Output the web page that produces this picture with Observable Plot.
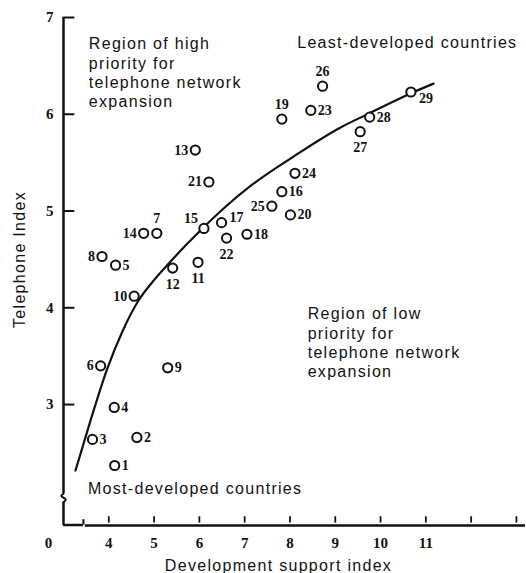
<!DOCTYPE html>
<html><head><meta charset="utf-8">
<script src="https://cdn.jsdelivr.net/npm/d3@7"></script>
<script src="https://cdn.jsdelivr.net/npm/@observablehq/plot@0.6"></script>
<style>
html,body{margin:0;padding:0;background:#fff;}
#chart{width:526px;height:573px;overflow:hidden;}
</style></head><body><div id="chart"></div>
<script>
// Country numbers, development support index (x), telephone index (y)
const countryIds = [1,2,3,4,5,6,7,8,9,10,11,12,13,14,15,16,17,18,19,20,21,22,23,24,25,26,27,28,29];
const devIndex = [4.13,4.62,3.64,4.12,4.15,3.82,5.06,3.85,5.30,4.56,5.97,5.41,5.91,4.77,6.10,7.82,6.49,7.05,7.82,8.01,6.21,6.60,8.46,8.11,7.60,8.72,9.55,9.76,10.67];
const telIndex = [2.37,2.66,2.64,2.97,4.44,3.40,4.77,4.53,3.38,4.12,4.47,4.41,5.63,4.77,4.82,5.20,4.88,4.76,5.95,4.96,5.30,4.72,6.04,5.39,5.05,6.29,5.82,5.97,6.23];
const labelSide = ["r","r","r","r","r","l","t","l","r","l","b","b","l","l","tl","r","tr","r","t","r","l","b","r","r","l","t","b","r","br"];

// Fitted curve as drawn in the reference
const curveDev = [3.265,3.596,3.965,4.303,4.656,4.987,5.318,5.694,6.091,6.577,7.129,8.079,9.117,9.713,10.662,11.170];
const curveTel = [2.318,2.834,3.369,3.758,4.075,4.280,4.455,4.643,4.830,5.044,5.259,5.563,5.864,6.001,6.215,6.317];

// Axis ticks
const yTicks = [3,4,5,6,7];
const xTicks = [4,5,6,7,8,9,10,11,12,13];
const xTickLabels = ["4","5","6","7","8","9","10","11","",""];
const originLabel = "0";

// Annotation texts
const noteTexts = ["Region of high\npriority for\ntelephone network\nexpansion","Least-developed countries","Region of low\npriority for\ntelephone network\nexpansion","Most-developed countries"];
const noteDev = [3.56, 8.16, 8.39, 3.54];
const noteTel = [6.435, 6.745, 3.644, 2.14];

const xTitle = "Development support index";
const yTitle = "Telephone Index";

const points = countryIds.map((id,i)=>({id, x: devIndex[i], y: telIndex[i], side: labelSide[i]}));
const curve = curveDev.map((x,i)=>({x, y: curveTel[i]}));
const notes = noteTexts.map((t,i)=>({t, x: noteDev[i], y: noteTel[i]}));

const ink = "#111";
const serif = "'Liberation Serif', 'DejaVu Serif', serif";
const sans = "'Liberation Sans', Arial, sans-serif";

const sides = {
  r:  {dx: 7,  dy: 0,   textAnchor: "start"},
  l:  {dx: -7, dy: 0,   textAnchor: "end"},
  t:  {dx: 0,  dy: -15, textAnchor: "middle"},
  b:  {dx: 0,  dy: 16,  textAnchor: "middle"},
  tl: {dx: -6, dy: -10, textAnchor: "end"},
  tr: {dx: 8,  dy: -5,  textAnchor: "start"},
  br: {dx: 8,  dy: 7,   textAnchor: "start"}
};
const labelMarks = Object.entries(sides).map(([k,o]) =>
  Plot.text(points.filter(d=>d.side===k), {x:"x", y:"y", text: d=>String(d.id), dx:o.dx, dy:o.dy, textAnchor:o.textAnchor,
    fontFamily: serif, fontWeight: "bold", fontSize: 14, fill: ink, lineAnchor: "middle"}));

const chart = Plot.plot({
  width: 526, height: 573,
  marginLeft: 63, marginRight: 1, marginTop: 17, marginBottom: 48,
  style: {background: "#fff", color: ink, overflow: "visible"},
  x: {domain: [3, 13.2]},
  y: {domain: [1.75, 7]},
  marks: [
    Plot.axisY({ticks: yTicks, tickSize: 0, tickPadding: 10, label: null, tickFormat: d => String(d),
      fontFamily: serif, fontWeight: "bold", fontSize: 15}),
    Plot.axisX({ticks: xTicks, tickSize: 0, tickPadding: 12, label: null, tickFormat: d => xTickLabels[xTicks.indexOf(d)],
      fontFamily: serif, fontWeight: "bold", fontSize: 15}),
    Plot.text([originLabel], {x: 3, y: 1.75, text: d=>d, dx: -15, dy: 18, fontFamily: serif, fontWeight: "bold", fontSize: 15, fill: ink}),
    // inward tick marks
    Plot.ruleY(yTicks, {y: d=>d, x1: 3, x2: 3.25, stroke: ink, strokeWidth: 2}),
    Plot.ruleX(xTicks, {x: d=>d, y1: 1.775, y2: 1.84, stroke: ink, strokeWidth: 1.8}),
    // broken axes
    Plot.ruleX([3], {x: d=>d, y1: 2.08, y2: 7, stroke: ink, strokeWidth: 2.5}),
    Plot.line([{x:3,y:2.08},{x:2.95,y:2.055},{x:3.05,y:2.02},{x:3,y:1.99}], {x:"x", y:"y", stroke: ink, strokeWidth: 2, curve: "catmull-rom"}),
    Plot.ruleX([3], {x: d=>d, y1: 1.75, y2: 1.99, stroke: ink, strokeWidth: 2.5}),
    Plot.ruleY([1.755], {y: d=>d, x1: 3, x2: 3.44, stroke: ink, strokeWidth: 2.5}),
    Plot.ruleX([3.44], {x: d=>d, y1: 1.755, y2: 1.81, stroke: ink, strokeWidth: 2}),
    Plot.ruleY([1.75], {y: d=>d, x1: 3.48, x2: 13.2, stroke: ink, strokeWidth: 2.5}),
    // curve
    Plot.line(curve, {x:"x", y:"y", curve: "monotone-x", stroke: ink, strokeWidth: 2.2}),
    // points
    Plot.dot(points, {x:"x", y:"y", r: 4.6, stroke: ink, strokeWidth: 2, fill: "#fff"}),
    ...labelMarks,
    // notes
    Plot.text(notes, {x:"x", y:"y", text:"t", textAnchor: "start", lineAnchor: "middle", lineHeight: 1.21,
      fontFamily: sans, fontSize: 16, fill: ink}),
    // axis titles
    Plot.text([yTitle], {frameAnchor: "left", text: d=>d, rotate: -90, dx: -44, dy: -12, textAnchor: "middle", lineAnchor: "middle",
      fontFamily: sans, fontSize: 16, fill: ink}),
    Plot.text([xTitle], {frameAnchor: "bottom", text: d=>d, dx: -16, dy: 40, textAnchor: "middle", lineAnchor: "middle",
      fontFamily: sans, fontSize: 16, fill: ink})
  ]
});
// letter spacing for the sans-serif texts
chart.querySelectorAll("g[font-family*='Liberation Sans']").forEach(g=>g.style.letterSpacing="1.3px");
document.getElementById("chart").appendChild(chart);
</script>
</body></html>
